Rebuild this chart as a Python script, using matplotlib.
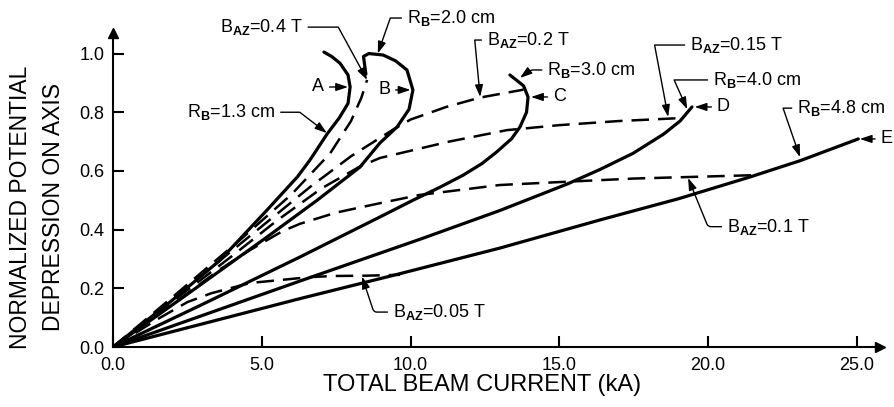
import numpy as np
import matplotlib
matplotlib.use('Agg')
import matplotlib.pyplot as plt

plt.rcParams['font.family'] = ['Liberation Sans', 'DejaVu Sans']
plt.rcParams['mathtext.fontset'] = 'custom'
plt.rcParams['mathtext.rm'] = 'Liberation Sans'
plt.rcParams['mathtext.it'] = 'Liberation Sans'
plt.rcParams['mathtext.bf'] = 'Liberation Sans:bold'
plt.rcParams['mathtext.default'] = 'regular'

# Solid curves: constant beam radius R_B (current kA, normalized depression)
A_x = [0, 2.0, 3.6, 5.18, 6.2, 6.62, 7.19, 7.6, 7.9, 7.97, 7.9, 7.63, 7.35, 7.09]
A_y = [0, 0.16, 0.296, 0.467, 0.58, 0.637, 0.725, 0.78, 0.83, 0.886, 0.927, 0.967, 0.99, 1.005]
B_x = [0, 2.5, 5.18, 6.86, 8.3, 8.97, 9.55, 9.95, 10.08, 9.88, 9.5, 9.08, 8.6, 8.42, 8.5]
B_y = [0, 0.18, 0.375, 0.50, 0.613, 0.695, 0.75, 0.81, 0.876, 0.944, 0.975, 0.995, 1.0, 0.99, 0.93]
C_x = [0, 3.0, 6.29, 8.97, 10.08, 11.0, 11.76, 12.4, 12.9, 13.4, 13.68, 13.9, 13.95, 13.8, 13.34]
C_y = [0, 0.145, 0.307, 0.443, 0.50, 0.545, 0.585, 0.625, 0.665, 0.71, 0.75, 0.80, 0.852, 0.89, 0.927]
D_x = [0, 6.29, 10.4, 13.0, 15.26, 16.37, 17.48, 18.5, 19.06, 19.46]
D_y = [0, 0.225, 0.37, 0.465, 0.555, 0.605, 0.66, 0.725, 0.77, 0.818]
E_x = [0, 6.29, 9.65, 13.0, 16.37, 19.0, 21.4, 23.1, 25.05]
E_y = [0, 0.165, 0.25, 0.337, 0.433, 0.505, 0.579, 0.635, 0.709]

# Dashed curves: constant magnetic field B_AZ
b04_x = [0, 2.0, 4.27, 6.0, 7.3, 8.0, 8.35, 8.54]
b04_y = [0, 0.17, 0.365, 0.52, 0.66, 0.77, 0.85, 0.91]
b02_x = [0, 2.0, 4.2, 6.62, 8.0, 9.4, 10.0, 11.2, 12.34, 13.8]
b02_y = [0, 0.162, 0.345, 0.545, 0.65, 0.74, 0.775, 0.818, 0.85, 0.877]
b015_x = [0, 2.0, 4.0, 5.5, 7.0, 8.3, 8.97, 11.3, 13.24, 15.0, 17.0, 19.06]
b015_y = [0, 0.155, 0.31, 0.43, 0.54, 0.615, 0.644, 0.70, 0.739, 0.756, 0.77, 0.78]
b01_x = [0, 2.0, 3.6, 4.6, 5.7, 6.29, 7.5, 8.97, 10.3, 13.0, 15.0, 17.5, 21.7]
b01_y = [0, 0.145, 0.265, 0.33, 0.395, 0.42, 0.458, 0.49, 0.518, 0.552, 0.562, 0.574, 0.586]
b005_x = [0, 1.5, 2.5, 3.3, 4.6, 6.6, 7.4, 8.5, 9.65]
b005_y = [0, 0.095, 0.153, 0.183, 0.218, 0.238, 0.242, 0.243, 0.246]

x_ticks = [0, 5, 10, 15, 20, 25]
x_tick_labels = ['0.0', '5.0', '10.0', '15.0', '20.0', '25.0']
y_ticks = [0, 0.2, 0.4, 0.6, 0.8, 1.0]
y_tick_labels = ['0.0', '0.2', '0.4', '0.6', '0.8', '1.0']

fig = plt.figure(figsize=(8.95, 4.07), dpi=100)
ax = fig.add_axes([113 / 895, 60 / 407, 767 / 895, 314 / 407])
ax.set_xlim(0, 25.78)
ax.set_ylim(0, 1.07)

solid = dict(color='black', lw=2.3, solid_joinstyle='round', solid_capstyle='round')
dashed = dict(color='black', lw=1.8, linestyle=(0, (7.0, 3.6)))

for xs, ys in [(A_x, A_y), (B_x, B_y), (C_x, C_y), (D_x, D_y), (E_x, E_y)]:
    ax.plot(xs, ys, **solid)
for xs, ys in [(b04_x, b04_y), (b02_x, b02_y), (b015_x, b015_y),
               (b01_x, b01_y), (b005_x, b005_y)]:
    ax.plot(xs, ys, **dashed)

# axes styling
for s in ['top', 'right']:
    ax.spines[s].set_visible(False)
for s in ['left', 'bottom']:
    ax.spines[s].set_linewidth(1.5)
ax.plot(1, 0, '>k', ms=7, transform=ax.transAxes, clip_on=False)
ax.plot(0, 1, '^k', ms=7, transform=ax.transAxes, clip_on=False)
ax.set_xticks(x_ticks)
ax.set_xticklabels(x_tick_labels)
ax.set_yticks(y_ticks)
ax.set_yticklabels(y_tick_labels)
ax.tick_params(axis='both', direction='in', length=8, width=1.5, labelsize=13)
ax.tick_params(axis='x', pad=7)
ax.tick_params(axis='y', pad=6)

fig.text(482 / 895, 22 / 407, 'TOTAL BEAM CURRENT (kA)', ha='center', va='center', fontsize=17)
fig.text(37 / 895, 200 / 407, 'NORMALIZED POTENTIAL\nDEPRESSION ON AXIS', ha='center', va='center',
         rotation=90, fontsize=16.5, linespacing=1.6)

FS = 13


def leader(text, xytext, xy, angleB, ha='left', rad=0):
    relpos = (0, 0.5) if ha == 'left' else (1, 0.5)
    ax.annotate(text, xy=xy, xytext=xytext, ha=ha, va='center', fontsize=FS,
                annotation_clip=False,
                arrowprops=dict(arrowstyle='-|>,head_length=0.6,head_width=0.2',
                                color='black', lw=1.0, mutation_scale=12,
                                connectionstyle=f'angle,angleA=0,angleB={angleB},rad={rad}',
                                relpos=relpos, shrinkA=2, shrinkB=0))


def pointer(text, xytext, xy):
    ax.annotate(text, xy=xy, xytext=xytext, ha='left', va='center', fontsize=FS,
                annotation_clip=False,
                arrowprops=dict(arrowstyle='-|>,head_length=0.6,head_width=0.2',
                                color='black', lw=1.0, mutation_scale=12,
                                relpos=(0, 0.5), shrinkA=2, shrinkB=0))


leader('$B_\\mathbf{AZ}$=0.4 T', (3.6, 1.09), (8.54, 0.91), 118.6)
leader('$R_\\mathbf{B}$=2.0 cm', (9.88, 1.121), (8.9, 1.0), 70.6)
leader('$B_\\mathbf{AZ}$=0.2 T', (12.57, 1.046), (12.34, 0.852), 95.4)
leader('$R_\\mathbf{B}$=3.0 cm', (14.6, 0.944), (13.68, 0.917), 37.6, rad=3)
leader('$R_\\mathbf{B}$=1.3 cm', (5.45, 0.80), (7.19, 0.729), 142.5, ha='right')
leader('$B_\\mathbf{AZ}$=0.15 T', (19.4, 1.029), (18.66, 0.784), 100.7)
leader('$R_\\mathbf{B}$=4.0 cm', (20.17, 0.91), (19.3, 0.81), 114.0)
leader('$R_\\mathbf{B}$=4.8 cm', (23.0, 0.814), (23.09, 0.647), 109.0)
leader('$B_\\mathbf{AZ}$=0.1 T', (20.64, 0.41), (19.33, 0.576), -67.8, rad=3)
leader('$B_\\mathbf{AZ}$=0.05 T', (9.41, 0.119), (8.37, 0.24), -71.6, rad=3)

pointer('A', (6.69, 0.886), (7.9, 0.886))
pointer('B', (8.91, 0.876), (10.0, 0.876))
pointer('C', (14.79, 0.852), (14.05, 0.852))
pointer('D', (20.3, 0.818), (19.55, 0.818))
pointer('E', (25.8, 0.709), (25.1, 0.709))

fig.savefig('out.png', dpi=100)
